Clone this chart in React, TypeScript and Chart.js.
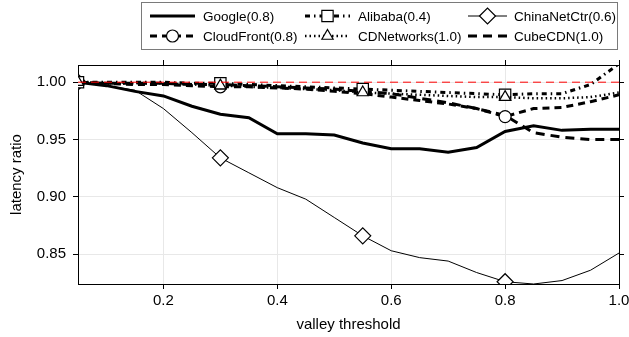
import React, { useEffect, useRef } from 'react';
import { Chart, registerables } from 'chart.js';

Chart.register(...registerables);

// ---------- data ----------
const X_VALUES = [0.05, 0.1, 0.15, 0.2, 0.25, 0.3, 0.35, 0.4, 0.45, 0.5, 0.55, 0.6, 0.65, 0.7, 0.75, 0.8, 0.85, 0.9, 0.95, 1.0];

const GOOGLE = [1.0, 0.997, 0.992, 0.988, 0.979, 0.972, 0.969, 0.955, 0.955, 0.954, 0.947, 0.942, 0.942, 0.939, 0.943, 0.957, 0.962, 0.958, 0.959, 0.959];
const CLOUDFRONT = [1.0, 0.999, 0.998, 0.998, 0.997, 0.996, 0.996, 0.995, 0.994, 0.992, 0.99, 0.987, 0.984, 0.981, 0.977, 0.97, 0.977, 0.978, 0.983, 0.989];
const ALIBABA = [1.0, 1.0, 1.0, 1.0, 0.999, 0.999, 0.998, 0.997, 0.996, 0.995, 0.994, 0.993, 0.992, 0.991, 0.99, 0.989, 0.99, 0.99, 0.998, 1.016];
const CDNETWORKS = [1.0, 0.999, 0.999, 0.999, 0.998, 0.997, 0.996, 0.995, 0.994, 0.993, 0.991, 0.99, 0.989, 0.988, 0.987, 0.987, 0.986, 0.986, 0.987, 0.991];
const CHINANETCTR = [1.0, 0.997, 0.993, 0.977, 0.956, 0.934, 0.921, 0.908, 0.898, 0.882, 0.866, 0.853, 0.847, 0.844, 0.834, 0.826, 0.824, 0.827, 0.836, 0.851];
const CUBECDN = [1.0, 0.999, 0.999, 0.999, 0.998, 0.998, 0.997, 0.996, 0.995, 0.994, 0.992, 0.99, 0.986, 0.982, 0.977, 0.971, 0.956, 0.952, 0.95, 0.95];

const SERIES_NAMES = ['Google(0.8)', 'CloudFront(0.8)', 'Alibaba(0.4)', 'CDNetworks(1.0)', 'ChinaNetCtr(0.6)', 'CubeCDN(1.0)'];

const X_TICKS = [0.2, 0.4, 0.6, 0.8, 1.0];
const Y_TICKS = [0.85, 0.9, 0.95, 1.0];
const BASELINE = 1.0;
const X_MIN = 0.05;
const X_MAX = 1.0;
const Y_MIN = 0.824;
const Y_MAX = 1.015;

const X_TITLE = 'valley threshold';
const Y_TITLE = 'latency ratio';

// ---------- styles ----------
const FONT = '"Liberation Sans", Arial, Helvetica, sans-serif';

type Marker = null | 'circle' | 'rect' | 'triangle' | 'rectRot';
interface Style {
  width: number;
  dash: number[];
  marker: Marker;
  radius: number;
  markIdx: number[];
  col: number;
  row: number;
}

const STYLES: Style[] = [
  { width: 3, dash: [], marker: null, radius: 0, markIdx: [], col: 0, row: 0 },
  { width: 3, dash: [7, 5], marker: 'circle', radius: 6, markIdx: [0, 5, 15], col: 0, row: 1 },
  { width: 3, dash: [5, 4, 1.5, 4], marker: 'rect', radius: 8, markIdx: [0, 5, 10, 15], col: 1, row: 0 },
  { width: 2.5, dash: [1.5, 3], marker: 'triangle', radius: 6.5, markIdx: [0, 5, 10, 15], col: 1, row: 1 },
  { width: 1, dash: [], marker: 'rectRot', radius: 8, markIdx: [0, 5, 10, 15], col: 2, row: 0 },
  { width: 3, dash: [9, 6], marker: null, radius: 0, markIdx: [], col: 2, row: 1 },
];

const SERIES_DATA = [GOOGLE, CLOUDFRONT, ALIBABA, CDNETWORKS, CHINANETCTR, CUBECDN];
// draw order: first dataset is painted on top
const DRAW_ORDER = [3, 2, 1, 5, 0, 4];

function drawMarker(ctx: CanvasRenderingContext2D, type: Marker, x: number, y: number, r: number) {
  if (!type) return;
  ctx.save();
  ctx.setLineDash([]);
  ctx.fillStyle = '#ffffff';
  ctx.strokeStyle = '#000000';
  ctx.lineWidth = 1.2;
  ctx.beginPath();
  if (type === 'circle') {
    ctx.arc(x, y, r, 0, Math.PI * 2);
  } else if (type === 'rect') {
    const s = r * Math.SQRT1_2;
    ctx.rect(x - s, y - s, 2 * s, 2 * s);
  } else if (type === 'triangle') {
    ctx.moveTo(x, y - r);
    ctx.lineTo(x + r * Math.sin(Math.PI * 2 / 3), y - r * Math.cos(Math.PI * 2 / 3));
    ctx.lineTo(x + r * Math.sin(Math.PI * 4 / 3), y - r * Math.cos(Math.PI * 4 / 3));
  } else if (type === 'rectRot') {
    ctx.moveTo(x - r, y);
    ctx.lineTo(x, y - r);
    ctx.lineTo(x + r, y);
    ctx.lineTo(x, y + r);
  }
  ctx.closePath();
  ctx.fill();
  ctx.stroke();
  ctx.restore();
}

const legendPlugin = {
  id: 'customLegend',
  afterDraw(chart: any) {
    const ctx: CanvasRenderingContext2D = chart.ctx;
    ctx.save();
    // box
    ctx.strokeStyle = '#7a7a7a';
    ctx.lineWidth = 1;
    ctx.setLineDash([]);
    ctx.strokeRect(141.5, 2.5, 476, 47);
    const colText = [203, 358, 514];
    const colSample = [[150, 195], [305, 350], [468, 507]];
    const rowY = [16, 36];
    ctx.font = `13.5px ${FONT}`;
    ctx.textBaseline = 'middle';
    ctx.textAlign = 'left';
    ctx.fillStyle = '#000';
    SERIES_NAMES.forEach((name, i) => {
      const st = STYLES[i];
      const tx = colText[st.col];
      const y = rowY[st.row];
      const x0 = colSample[st.col][0];
      const x1 = colSample[st.col][1];
      ctx.save();
      ctx.strokeStyle = '#000';
      ctx.lineWidth = st.width;
      ctx.setLineDash(st.dash);
      ctx.lineCap = 'butt';
      ctx.beginPath();
      ctx.moveTo(x0, y);
      ctx.lineTo(x1, y);
      ctx.stroke();
      ctx.restore();
      drawMarker(ctx, st.marker, (x0 + x1) / 2, y, st.radius);
      ctx.fillText(name, tx, y + 1);
    });
    ctx.restore();
  },
};

export default function App() {
  const canvasRef = useRef<HTMLCanvasElement | null>(null);

  useEffect(() => {
    if (!canvasRef.current) return;

    const seriesDatasets = DRAW_ORDER.map((i) => {
      const st = STYLES[i];
      return {
        label: SERIES_NAMES[i],
        data: X_VALUES.map((x, k) => ({ x, y: SERIES_DATA[i][k] })),
        borderColor: '#000000',
        backgroundColor: '#ffffff',
        borderWidth: st.width,
        borderDash: st.dash,
        borderCapStyle: 'butt' as const,
        tension: 0,
        fill: false,
        clip: 0,
        pointStyle: st.marker || 'circle',
        pointRadius: (c: any) => (st.marker && st.markIdx.includes(c.dataIndex) ? st.radius : 0),
        pointHoverRadius: (c: any) => (st.marker && st.markIdx.includes(c.dataIndex) ? st.radius : 0),
        pointBackgroundColor: '#ffffff',
        pointBorderColor: '#000000',
        pointBorderWidth: 1.2,
        xAxisID: 'x',
        yAxisID: 'y',
      };
    });

    const baselineDataset = {
      label: 'baseline',
      data: [
        { x: X_MIN, y: BASELINE },
        { x: X_MAX, y: BASELINE },
      ],
      borderColor: '#ff0000',
      borderWidth: 1,
      borderDash: [8, 5],
      pointRadius: 0,
      pointHoverRadius: 0,
      fill: false,
      clip: 0,
      xAxisID: 'x',
      yAxisID: 'y',
    };

    const tickFont = { family: FONT, size: 15 };
    const gridColor = '#e8e8e8';

    const chart = new Chart(canvasRef.current, {
      type: 'line',
      data: { datasets: [baselineDataset, ...seriesDatasets] as any },
      plugins: [legendPlugin],
      options: {
        animation: false,
        responsive: false,
        events: [],
        layout: { padding: 0 },
        plugins: { legend: { display: false }, tooltip: { enabled: false } },
        scales: {
          x: {
            type: 'linear',
            position: 'bottom',
            min: X_MIN,
            max: X_MAX,
            afterBuildTicks: (s: any) => {
              s.ticks = X_TICKS.map((v) => ({ value: v }));
            },
            ticks: {
              font: tickFont,
              color: '#000',
              padding: 3,
              maxRotation: 0,
              autoSkip: false,
              callback: (v: any) => Number(v).toFixed(1),
            },
            grid: { color: gridColor, lineWidth: 1, tickLength: 5, tickColor: '#000' },
            border: { display: true, color: '#000', width: 1 },
            title: { display: true, text: X_TITLE, font: { family: FONT, size: 15 }, color: '#000', padding: { top: 0, bottom: 3 } },
            afterFit: (s: any) => {
              s.height = 53;
              s.paddingLeft = 0;
              s.paddingRight = 0;
            },
          } as any,
          x2: {
            type: 'linear',
            position: 'top',
            min: X_MIN,
            max: X_MAX,
            afterBuildTicks: (s: any) => {
              s.ticks = X_TICKS.map((v) => ({ value: v }));
            },
            ticks: { display: false },
            grid: { drawOnChartArea: false, tickLength: 5, tickColor: '#000', color: '#000' },
            border: { display: true, color: '#000', width: 1 },
            afterFit: (s: any) => {
              s.height = 65;
              s.paddingLeft = 0;
              s.paddingRight = 0;
            },
          } as any,
          y: {
            type: 'linear',
            position: 'left',
            min: Y_MIN,
            max: Y_MAX,
            afterBuildTicks: (s: any) => {
              s.ticks = Y_TICKS.map((v) => ({ value: v }));
            },
            ticks: {
              font: tickFont,
              color: '#000',
              padding: 7,
              autoSkip: false,
              callback: (v: any) => Number(v).toFixed(2),
            },
            grid: { color: gridColor, lineWidth: 1, tickLength: 5, tickColor: '#000' },
            border: { display: true, color: '#000', width: 1 },
            title: { display: true, text: Y_TITLE, font: { family: FONT, size: 15 }, color: '#000', padding: { top: 8, bottom: 0 } },
            afterFit: (s: any) => {
              s.width = 78;
              s.paddingTop = 0;
              s.paddingBottom = 0;
            },
          } as any,
          y2: {
            type: 'linear',
            position: 'right',
            min: Y_MIN,
            max: Y_MAX,
            afterBuildTicks: (s: any) => {
              s.ticks = Y_TICKS.map((v) => ({ value: v }));
            },
            ticks: { display: false },
            grid: { drawOnChartArea: false, tickLength: 5, tickColor: '#000', color: '#000' },
            border: { display: true, color: '#000', width: 1 },
            afterFit: (s: any) => {
              s.width = 10;
              s.paddingTop = 0;
              s.paddingBottom = 0;
            },
          } as any,
        },
      },
    });

    return () => chart.destroy();
  }, []);

  return (
    <div style={{ position: 'absolute', left: 0, top: 0, width: 629, height: 337, background: '#fff' }}>
      <canvas ref={canvasRef} width={629} height={337} style={{ display: 'block', width: 629, height: 337 }} />
    </div>
  );
}
